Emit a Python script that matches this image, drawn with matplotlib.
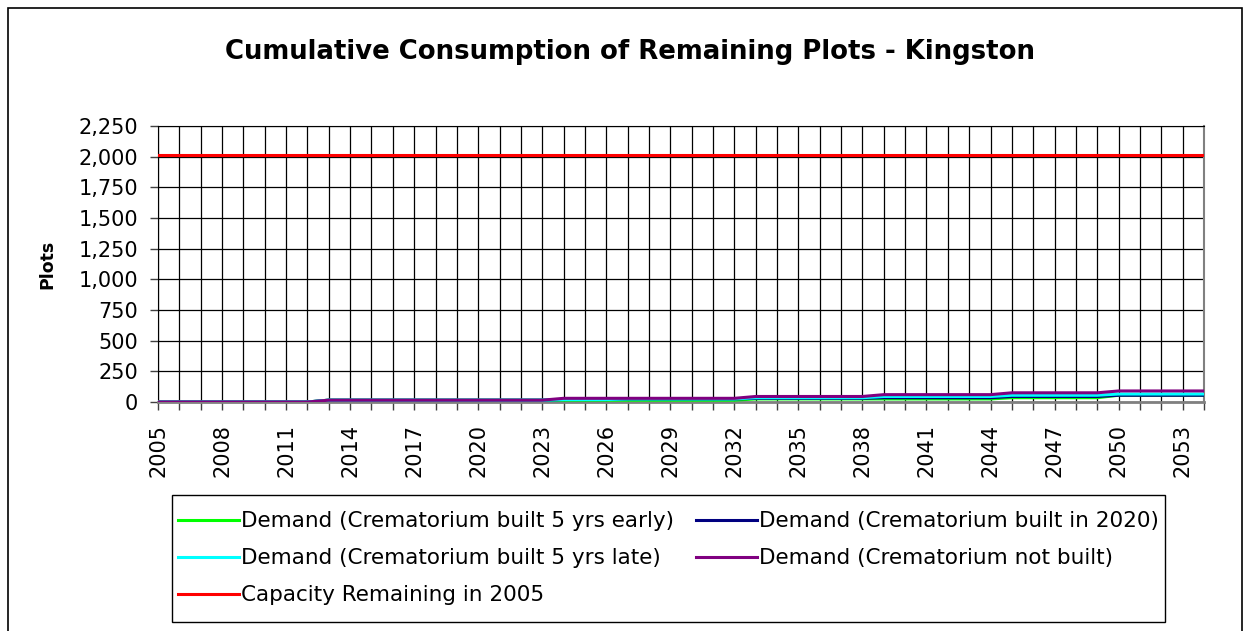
import matplotlib
matplotlib.use("Agg")
import matplotlib.pyplot as plt
from matplotlib.patches import Rectangle
from matplotlib.ticker import FuncFormatter

# ---- data ----
years = list(range(2005, 2055))
early = [0]*8 + [15]*20 + [25]*12 + [35]*5 + [55]*5
built2020 = [0]*8 + [15]*11 + [20]*3 + [25]*6 + [30]*6 + [35]*6 + [45]*5 + [55]*5
late = [0]*8 + [15]*11 + [20]*3 + [25]*6 + [35]*6 + [45]*6 + [55]*5 + [65]*5
notbuilt = [0]*8 + [15]*11 + [30]*9 + [45]*6 + [60]*6 + [75]*5 + [90]*5
capacity = [2013]*50

series_labels = [
    "Demand (Crematorium built 5 yrs early)",
    "Demand (Crematorium built in 2020)",
    "Demand (Crematorium built 5 yrs late)",
    "Demand (Crematorium not built)",
    "Capacity Remaining in 2005",
]
colors = ["#00FF00", "#000080", "#00FFFF", "#800080", "#FF0000"]
yticks = list(range(0, 2251, 250))
title = "Cumulative Consumption of Remaining Plots - Kingston"

plt.rcParams['font.family'] = ['DejaVu Sans']

W, H = 1246, 631
fig = plt.figure(figsize=(W/100, H/100), dpi=100)
fig.patch.set_facecolor("white")

# outer border
fig.patches.append(Rectangle((8/W, -0.02), (1242-8)/W, 1.02 - 8/H,
                             transform=fig.transFigure, fill=False,
                             edgecolor="black", linewidth=1.2))

L, R, T, B = 158, 1204, 126, 402
ax = fig.add_axes([L/W, 1-B/H, (R-L)/W, (B-T)/H])

data = [early, built2020, late, notbuilt, capacity]
lines = []
for vals, c in zip(data, colors):
    ln, = ax.plot(years, vals, color=c, linewidth=2.2, zorder=3)
    lines.append(ln)

ax.set_xlim(2005, 2054)
ax.set_ylim(0, 2250)
ax.set_yticks(yticks)
ax.yaxis.set_major_formatter(FuncFormatter(lambda v, p: f"{int(v):,}"))
ax.set_xticks(years)
ax.set_xticklabels([str(y) if (y - 2005) % 3 == 0 else "" for y in years],
                   rotation=90)
ax.grid(True, color="black", linewidth=0.9, zorder=1)
ax.set_axisbelow(True)

ax.tick_params(axis="x", length=6, width=1, color="#404040", pad=10, labelsize=15)
ax.tick_params(axis="y", length=6, width=1, color="#404040", pad=8.5, labelsize=15)
for lab in ax.get_xticklabels():
    lab.set_va("top")
    lab.set_ha("center")

ax.spines["bottom"].set_color("#808080")
ax.spines["bottom"].set_linewidth(2)
ax.spines["left"].set_color("black")
ax.spines["top"].set_color("black")
ax.spines["right"].set_color("#808080")
ax.spines["right"].set_linewidth(1.5)

ax.set_ylabel("Plots", fontsize=12.5, fontweight="bold")
ax.yaxis.set_label_coords(-(L-56)/(R-L), 0.5)

fig.text(630/W, 1-52/H, title, ha="center", va="center",
         fontsize=18.7, fontweight="bold")

# legend
order = [0, 2, 4, 1, 3]
lx0, lx1, ly0, ly1 = 172, 1165, 495, 622
fig.patches.append(Rectangle((lx0/W, 1-ly1/H), (lx1-lx0)/W, (ly1-ly0)/H,
                             transform=fig.transFigure, fill=False,
                             edgecolor="black", linewidth=1))
leg = fig.legend([lines[i] for i in order], [series_labels[i] for i in order],
                 ncol=2, loc="upper left",
                 bbox_to_anchor=(lx0/W, 1-505/H, (lx1-lx0)/W, 0.0),
                 mode="expand", frameon=False, fontsize=15.5,
                 handlelength=2.8, handletextpad=0.1, borderpad=0.3,
                 borderaxespad=0, labelspacing=0.78, columnspacing=0.5)

fig.savefig("out.png", dpi=100, facecolor="white")
